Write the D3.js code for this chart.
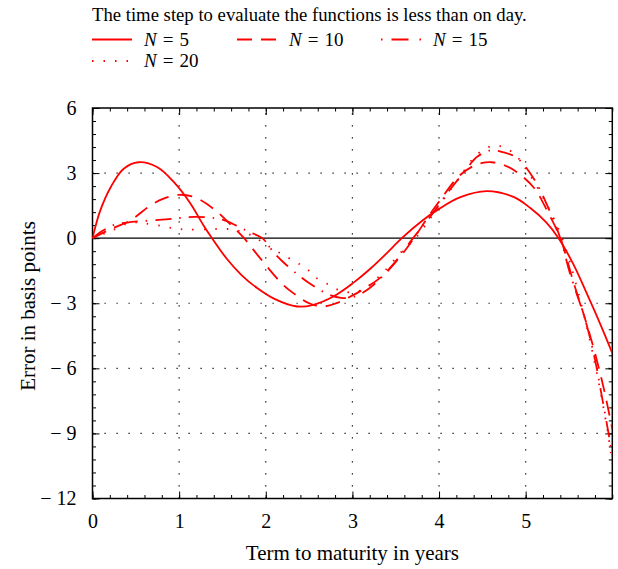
<!DOCTYPE html>
<html>
<head>
<meta charset="utf-8">
<script src="https://cdn.jsdelivr.net/npm/d3@7"></script>
<style>
  body { margin: 0; background: #fff; }
  text { font-family: "Liberation Serif", "Times New Roman", serif; fill: #000; }
</style>
</head>
<body>
<svg></svg>
<script>
// error curves: [term in years, error in bp]
var n5 = [[0,0],[0.09,1.28],[0.21,2.35],[0.36,3.2],[0.53,3.5],[0.75,3.27],[0.94,2.58],[1.13,1.6],[1.28,0.6],[1.38,0],
  [1.55,-0.95],[1.72,-1.7],[1.9,-2.3],[2.1,-2.8],[2.36,-3.15],[2.55,-3.07],[2.78,-2.69],[3.01,-2.06],[3.21,-1.4],
  [3.4,-0.68],[3.57,0],[3.82,0.85],[4.0,1.35],[4.24,1.88],[4.55,2.17],[4.86,1.9],[5.05,1.4],[5.24,0.72],[5.38,0],
  [5.55,-1.2],[5.7,-2.5],[5.86,-3.95],[6.0,-5.3]]
var n10 = [[0,0],[0.2,0.4],[0.44,0.83],[0.67,1.51],[0.82,1.82],[1.01,2.0],[1.19,1.87],[1.42,1.28],[1.6,0.6],[1.75,0],
  [1.92,-0.85],[2.2,-2.15],[2.34,-2.6],[2.5,-3.0],[2.65,-3.15],[2.8,-3.02],[2.95,-2.75],[3.15,-2.3],[3.36,-1.7],
  [3.55,-0.86],[3.71,0],[3.86,0.9],[4.01,1.74],[4.24,2.9],[4.44,3.4],[4.61,3.5],[4.76,3.35],[4.9,3.04],[5.1,2.3],
  [5.25,1.25],[5.4,0],[5.55,-2.0],[5.7,-3.9],[5.8,-5.3],[5.9,-6.9],[6.0,-8.8]]
var n15 = [[0,0],[0.12,0.35],[0.24,0.6],[0.4,0.72],[0.55,0.78],[0.8,0.85],[1.0,0.93],[1.17,0.98],[1.35,0.95],[1.5,0.85],
  [1.65,0.6],[1.8,0.3],[1.96,0],[2.1,-0.7],[2.2,-1.1],[2.4,-1.78],[2.53,-2.15],[2.7,-2.55],[2.87,-2.75],[3.02,-2.7],
  [3.2,-2.3],[3.45,-1.3],[3.7,0],[3.9,1.0],[4.1,2.1],[4.3,3.1],[4.44,3.75],[4.6,4.05],[4.75,3.95],[4.9,3.7],[5.1,2.7],
  [5.25,1.5],[5.4,0],[5.51,-1.6],[5.69,-3.8],[5.8,-5.6],[5.88,-7.3],[5.97,-9.3],[6.0,-10.0]]
var n20 = [[0,0],[0.13,0.2],[0.25,0.4],[0.44,0.72],[0.6,0.68],[0.81,0.55],[0.95,0.44],[1.09,0.4],[1.34,0.41],[1.5,0.43],
  [1.65,0.38],[1.85,0.1],[1.98,-0.24],[2.17,-0.7],[2.39,-1.2],[2.5,-1.5],[2.59,-1.85],[2.73,-2.15],[2.84,-2.39],
  [2.98,-2.5],[3.13,-2.35],[3.35,-1.6],[3.55,-0.7],[3.75,0.1],[3.95,1.2],[4.2,2.6],[4.45,3.9],[4.65,4.27],[4.85,3.95],
  [5.05,2.9],[5.25,1.5],[5.42,0],[5.6,-2.4],[5.8,-5.8],[5.95,-9.0],[6.0,-10.4]]

var seriesNames = ['5', '10', '15', '20']
var seriesData = [n5, n10, n15, n20]
var xTicks = [0, 1, 2, 3, 4, 5]
var yTicks = [6, 3, 0, -3, -6, -9, -12]

var width = 618
var height = 569
var plotLeft = 92.5, plotRight = 612.3, plotTop = 108, plotBottom = 498.5

var dashes = [null, '15,9', '16,8,1.5,8', '1.5,10']

var xScale = d3.scaleLinear().domain([0, 6]).range([plotLeft, plotRight])
var yScale = d3.scaleLinear().domain([-12, 6]).range([plotBottom, plotTop])

var svg = d3.select('svg')
  .attr('width', width)
  .attr('height', height)

svg.append('clipPath').attr('id', 'plot')
  .append('rect')
  .attr('x', plotLeft).attr('y', plotTop)
  .attr('width', plotRight - plotLeft).attr('height', plotBottom - plotTop)

// dotted grid
var grid = svg.append('g')
grid.selectAll('.gx')
  .data(xTicks.filter(d => d > 0))
  .enter().append('line')
  .attr('x1', d => xScale(d)).attr('x2', d => xScale(d))
  .attr('y1', plotBottom).attr('y2', plotTop)
  .attr('stroke', '#000').attr('stroke-width', 1.2)
  .attr('stroke-dasharray', '1.2,10.8')
grid.selectAll('.gy')
  .data(yTicks.filter(d => d !== 0 && d !== 6 && d !== -12))
  .enter().append('line')
  .attr('x1', plotLeft).attr('x2', plotRight)
  .attr('y1', d => yScale(d)).attr('y2', d => yScale(d))
  .attr('stroke', '#000').attr('stroke-width', 1.2)
  .attr('stroke-dasharray', '1.2,10.8')

// zero line
svg.append('line')
  .attr('x1', plotLeft).attr('x2', plotRight)
  .attr('y1', yScale(0)).attr('y2', yScale(0))
  .attr('stroke', '#000').attr('stroke-width', 1.2)

// axes with inward ticks, mirrored on top and right
var xMinor = d3.range(0, 6.01, 0.2).map(d => +d.toFixed(1))
var yMinor = d3.range(-12, 6.01, 0.6).map(d => +d.toFixed(1))

svg.append('g')
  .attr('transform', 'translate(0,' + plotBottom + ')')
  .call(d3.axisBottom(xScale).tickValues(xMinor).tickSize(-3.5).tickFormat(''))
svg.append('g')
  .attr('transform', 'translate(0,' + plotTop + ')')
  .call(d3.axisTop(xScale).tickValues(xMinor).tickSize(-3.5).tickFormat(''))
svg.append('g')
  .attr('transform', 'translate(' + plotLeft + ',0)')
  .call(d3.axisLeft(yScale).tickValues(yMinor).tickSize(-3.5).tickFormat(''))
svg.append('g')
  .attr('transform', 'translate(' + plotRight + ',0)')
  .call(d3.axisRight(yScale).tickValues(yMinor).tickSize(-3.5).tickFormat(''))

svg.append('g')
  .attr('class', 'x-axis')
  .attr('transform', 'translate(0,' + plotBottom + ')')
  .call(d3.axisBottom(xScale).tickValues(xTicks).tickSize(-7).tickPadding(15)
    .tickFormat(d => d))
svg.append('g')
  .attr('transform', 'translate(0,' + plotTop + ')')
  .call(d3.axisTop(xScale).tickValues(xTicks).tickSize(-7).tickFormat(''))
svg.append('g')
  .attr('class', 'y-axis')
  .attr('transform', 'translate(' + plotLeft + ',0)')
  .call(d3.axisLeft(yScale).tickValues(yTicks).tickSize(-7).tickPadding(16)
    .tickFormat(d => d < 0 ? '\u2212 ' + (-d) : d))
svg.append('g')
  .attr('transform', 'translate(' + plotRight + ',0)')
  .call(d3.axisRight(yScale).tickValues(yTicks).tickSize(-7).tickFormat(''))

svg.selectAll('.domain').remove()
svg.selectAll('.tick line').attr('stroke', '#000').attr('stroke-width', 1)
svg.selectAll('.tick text').style('font-size', '20px').style('font-family', '"Liberation Serif", serif')

svg.append('rect')
  .attr('x', plotLeft).attr('y', plotTop)
  .attr('width', plotRight - plotLeft).attr('height', plotBottom - plotTop)
  .attr('fill', 'none').attr('stroke', '#000').attr('stroke-width', 1.5)

// curves
var line = d3.line()
  .x(d => xScale(d[0]))
  .y(d => yScale(d[1]))
  .curve(d3.curveCatmullRom.alpha(0.5))

svg.append('g')
  .attr('clip-path', 'url(#plot)')
  .selectAll('path')
  .data(seriesData)
  .enter().append('path')
  .attr('d', line)
  .attr('fill', 'none')
  .attr('stroke', '#ff0000')
  .attr('stroke-width', 1.8)
  .attr('stroke-dasharray', (d, i) => dashes[i])

// axis titles
svg.append('text')
  .attr('x', (plotLeft + plotRight) / 2)
  .attr('y', 560)
  .style('text-anchor', 'middle')
  .style('font-size', '21px')
  .text('Term to maturity in years')

svg.append('text')
  .attr('transform', 'rotate(-90)')
  .attr('x', -306)
  .attr('y', 35)
  .style('text-anchor', 'middle')
  .style('font-size', '21px')
  .text('Error in basis points')

// legend
svg.append('text')
  .attr('x', 92)
  .attr('y', 21)
  .style('font-size', '18.7px')
  .text('The time step to evaluate the functions is less than on day.')

var legendPos = [[92, 39.5], [237, 39.5], [381, 39.5], [92, 61]]
var legend = svg.selectAll('.legend')
  .data(seriesNames)
  .enter().append('g')
  .attr('transform', (d, i) => 'translate(' + legendPos[i][0] + ',' + legendPos[i][1] + ')')

legend.append('line')
  .attr('x1', 0).attr('x2', 40)
  .attr('stroke', '#ff0000')
  .attr('stroke-width', 1.8)
  .attr('stroke-dasharray', (d, i) => i === 2 ? '1.5,9,17,11,1.5,20' : dashes[i])

var label = legend.append('text')
  .attr('x', 52)
  .attr('y', 6)
  .style('font-size', '19px')
label.append('tspan').style('font-style', 'italic').text('N')
label.append('tspan').attr('dx', 6).text('=')
label.append('tspan').attr('dx', 6).text(d => d)
</script>
</body>
</html>
